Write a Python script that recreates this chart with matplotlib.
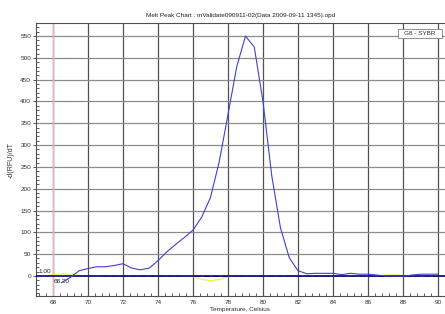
import matplotlib
matplotlib.use("Agg")
import matplotlib.pyplot as plt
from matplotlib.ticker import MultipleLocator
from matplotlib.patches import Rectangle

plt.rcParams['font.family'] = ['Liberation Sans', 'DejaVu Sans']

# melt peak (blue trace), -d(RFU)/dT vs temperature
temp = [68.5, 69.0, 69.5, 70.0, 70.5, 71.0, 71.5, 72.0, 72.5, 73.0, 73.5, 74.0,
        74.5, 75.0, 75.5, 76.0, 76.5, 77.0, 77.5, 78.0, 78.5, 79.0, 79.5, 80.0,
        80.5, 81.0, 81.5, 82.0, 82.5, 83.0, 83.5, 84.0, 84.5, 85.0, 85.5, 86.0,
        86.5, 87.0, 87.5, 88.0, 88.5, 89.0, 89.5, 90.0]
rfu = [-15, -3, 12, 17, 21, 21, 24, 28, 18, 14, 18, 35,
       55, 72, 88, 105, 135, 180, 262, 370, 480, 550, 525, 400,
       230, 110, 42, 12, 5, 6, 6, 6, 3, 6, 4, 4,
       2, 0, 0, -1, 2, 4, 4, 4]

# second (yellow) trace, mostly hidden under the baseline
temp2 = [67.5, 68.0, 68.5, 69.0, 69.5, 70.0, 75.5, 76.0, 76.5, 77.0, 77.5, 78.0,
         78.5, 86.5, 87.0, 87.5, 88.0, 88.5, 90.4]
rfu2 = [0, 3, 5, 4, 1, 0, 0, -2, -8, -11, -8, -2,
        0, 0, 2, 3, 1, 0, 0]

title = "Melt Peak Chart : mValidate090911-02(Data 2009-09-11 1345).opd"
fs = 4.6

fig = plt.figure(figsize=(4.45, 3.14), dpi=100)
ax = fig.add_axes([36 / 445, 18 / 314, 409 / 445, 273 / 314])

ax.set_xlim(67.03, 90.4)
ax.set_ylim(-46, 580)

# grid
for v in range(68, 91, 2):
    ax.axvline(v, color='#505050', lw=0.9, zorder=1)
for h in range(50, 551, 50):
    ax.axhline(h, color='#8c8c8c', lw=0.9, zorder=1)
ax.axvline(68, color='#eab0b8', lw=1.0, zorder=2)

# baseline
ax.plot([70.8, 90.4], [-0.8, -0.8], color='#202020', lw=0.6, ls=(0, (8, 3)), zorder=2)
ax.axhline(0, color='#000090', lw=1.2, zorder=3)

ax.plot(temp2, rfu2, color='#f0f040', lw=0.8, zorder=2)
ax.plot(temp, rfu, color='#4040d0', lw=0.8, zorder=4)

ax.text(67.9, 4, "1.00", fontsize=fs, ha='right', va='bottom', color='#202020')
ax.text(68.05, -6, "68.20", fontsize=fs, ha='left', va='top', color='#202020')

# channel label box
ax.add_patch(Rectangle((0.885, 0.945), 0.108, 0.033, transform=ax.transAxes,
                       facecolor='white', edgecolor='#808080', lw=0.6, zorder=5))
ax.text(0.939, 0.9615, "G8 - SYBR", transform=ax.transAxes, fontsize=fs,
        ha='center', va='center', color='#303030', zorder=6)

ax.xaxis.set_major_locator(MultipleLocator(2))
ax.xaxis.set_minor_locator(MultipleLocator(0.4))
ax.yaxis.set_major_locator(MultipleLocator(50))
ax.yaxis.set_minor_locator(MultipleLocator(10))
ax.set_yticks(range(0, 551, 50))

ax.tick_params(axis='both', which='major', labelsize=fs, length=2, width=0.6,
               colors='#404040', pad=1.5)
ax.tick_params(axis='x', which='major', length=0, pad=3)
ax.tick_params(axis='both', which='minor', direction='in', length=2.5,
               width=0.6, colors='#404040')
for lab in ax.get_xticklabels() + ax.get_yticklabels():
    lab.set_color('#303030')

for side in ['left', 'bottom', 'top']:
    ax.spines[side].set_color('#505050')
    ax.spines[side].set_linewidth(0.8)
ax.spines['right'].set_visible(False)

ax.set_title(title, fontsize=fs, color='#202020', pad=4)
ax.set_ylabel("-d(RFU)/dT", fontsize=fs + 0.5, color='#303030', labelpad=4)
ax.set_xlabel("Temperature, Celsius", fontsize=fs, color='#303030', labelpad=1)

fig.savefig("out.png", dpi=100)
